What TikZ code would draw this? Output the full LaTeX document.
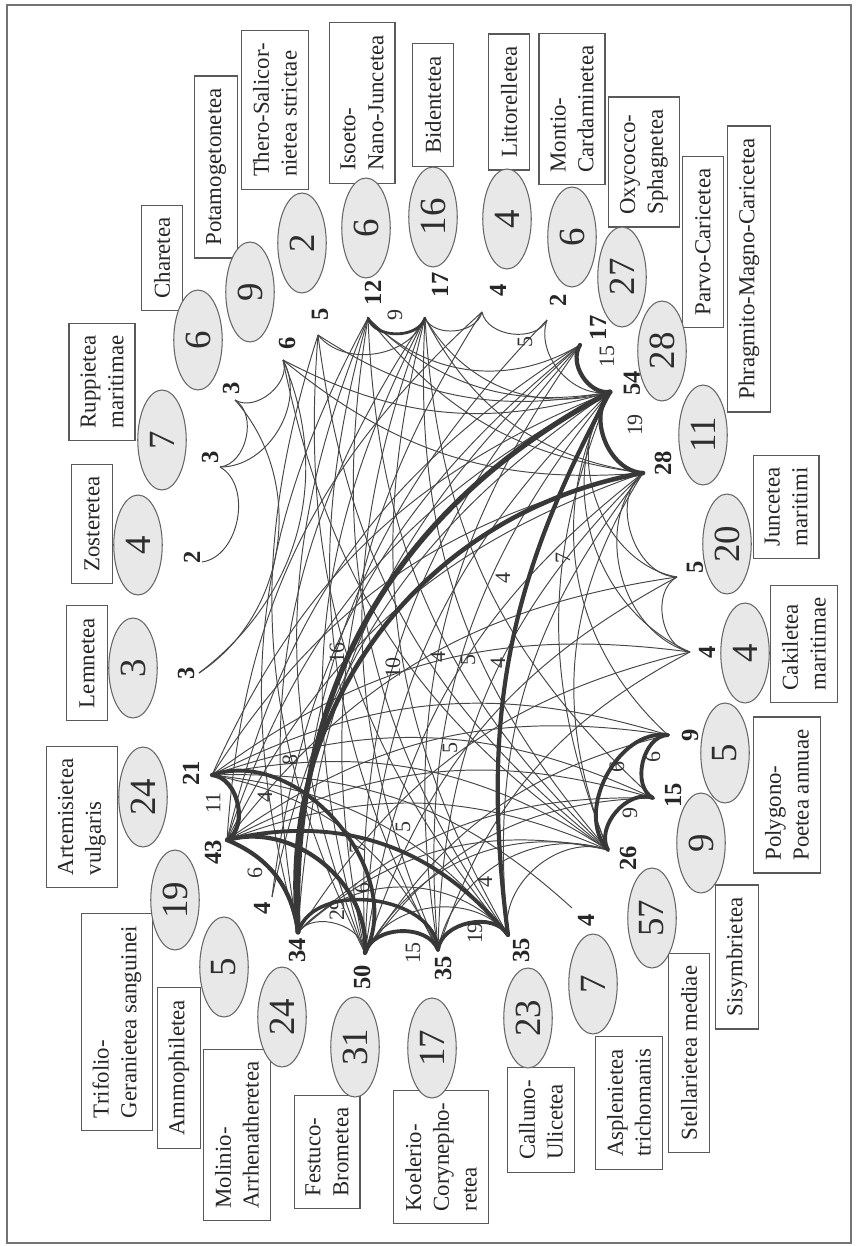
\documentclass[tikz,border=0pt]{standalone}
\usepackage{fontspec}
\setmainfont{Liberation Serif}
\usetikzlibrary{shapes.geometric,calc}

\tikzset{
  klasse/.style={ellipse,draw=black!60,fill=black!9,line width=0.6pt,rotate=90,
    minimum width=2cm,minimum height=0.97cm,inner sep=0pt,
    font=\fontsize{21}{21}\selectfont,text=black!82},
  namebox/.style={draw=black!65,fill=white,line width=0.7pt,rotate=90,align=left,
    inner xsep=7pt,inner ysep=6.5pt,minimum height=0.82cm,
    font=\fontsize{13}{15.8}\selectfont,text=black!85},
  hubnum/.style={rotate=90,inner sep=0pt,font=\fontsize{14}{14}\selectfont\bfseries,text=black!85},
  wnum/.style={rotate=90,inner sep=0pt,font=\fontsize{12.5}{12.5}\selectfont,text=black!80},
  link/.style={black!72,line width=0.55pt},
  heavy/.style={black!78,line join=round,line cap=round},
}

\begin{document}
\begin{tikzpicture}[x=0.02cm,y=-0.02cm]
\useasboundingbox (0,0) rectangle (855,1246);
\draw[black!55,line width=0.8pt] (7,5) rectangle (851,1243);

% hubs, in ring order
\foreach \hx/\hy/\lx/\ly/\v [count=\i] in {
  199/673/186/673/3, 202/562/192/557/2, 220/467/210/457/3, 235/400/231/388/3,
  283/360/287/343/6, 318/335/320/314/5, 368/318/373/293/12, 425/318/440/285/17,
  482/312/498/290/4, 547/320/558/300/2, 580/345/598/328/17, 610/392/632/383/54,
  643/473/663/463/28, 677/577/695/567/5, 690/652/707/652/4, 668/735/690/735/9,
  653/798/673/795/15, 608/850/628/858/26, 572/908/586/920/4, 508/935/521/950/35,
  438/950/443/968/35, 365/953/362/977/50, 298/932/297/950/34, 272/897/262/908/4,
  227/840/213/852/43, 212/775/191/773/21}{
  \coordinate (h\i) at (\hx,\hy);
  \node[hubnum] (hl\i) at (\lx,\ly) {\v};
}

% thin links
\foreach \a/\b in {1/4,1/5,2/3,3/4,3/5,4/5,5/12,5/13,5/18,6/8,6/12,6/18,6/20,6/22,
  7/11,7/12,7/13,7/18,7/20,7/21,7/22,7/23,8/9,8/12,8/13,8/17,8/18,8/20,8/21,8/22,
  8/23,9/10,9/22,9/25,10/12,10/23,11/21,11/22,11/23,11/24,11/25,
  12/14,12/15,12/16,12/18,12/21,12/22,12/24,12/25,12/26,13/14,13/15,13/18,13/20,
  13/21,13/22,13/25,13/26,14/15,14/22,14/25,15/21,15/23,15/26,16/22,16/25,16/26,
  17/22,17/23,17/25,17/26,18/20,18/21,18/22,18/23,18/25,18/26,19/26,20/22,20/23,
  20/26,21/26,22/23}{
  \pgfmathsetmacro\bnd{max(22,82-11*(\b-\a))}
  \draw[link] (h\a) to[bend right=\bnd] (h\b);
}

% heavy links
\foreach \a/\b/\bnd/\w in {7/8/72/1.6,11/12/65/2.4,12/13/65/2.4,12/23/32/3,13/23/43/2.6,
  12/20/18/2.4,16/17/75/2.2,16/18/70/2.2,17/18/70/2.2,20/21/72/2.2,21/22/72/2.2,
  21/23/80/2,20/25/32/2.2,22/25/55/2.4,23/25/30/2.4,25/26/72/2.4,22/26/68/2.2}{
  \draw[heavy,line width=\w pt] (h\a) to[bend right=\bnd] (h\b);
}

% link weights
\foreach \x/\y/\w [count=\i] in {395/315/9,525/342/5,607/357/15,635/425/19,337/653/16,
  393/668/10,438/657/4,468/660/5,498/663/4,503/578/4,563/558/7,450/748/5,290/760/8,
  265/797/4,213/803/11,255/873/6,357/848/7,403/827/5,337/910/29,362/888/6,413/953/15,
  475/933/19,485/882/4,617/767/6,653/757/6,630/813/9}{
  \node[wnum] (w\i) at (\x,\y) {\w};
}

% name boxes
\node[namebox] (lemT) at (87,663) {Lemnetea};
\node[namebox] (zosT) at (92,524) {Zosteretea};
\node[namebox] (rupT) at (102,382) {Ruppietea\\maritimae};
\node[namebox] (chaT) at (162,258) {Charetea};
\node[namebox] (potT) at (216,167) {Potamogetonetea};
\node[namebox] (theT) at (275,110) {Thero-Salicor-\\nietea strictae};
\node[namebox] (isoT) at (362,103) {Isoeto-\\Nano-Juncetea};
\node[namebox] (bidT) at (433,105) {Bidentetea};
\node[namebox] (litT) at (509,102) {Littorelletea};
\node[namebox] (monT) at (572,109) {Montio-\\Cardaminetea};
\node[namebox] (oxyT) at (644,162) {Oxycocco-\\Sphagnetea};
\node[namebox] (parT) at (703,242) {Parvo-Caricetea};
\node[namebox] (phrT) at (749,269) {Phragmito-Magno-Caricetea};
\node[namebox] (junT) at (786,507) {Juncetea\\maritimi};
\node[namebox] (cakT) at (804,644) {Cakiletea\\maritimae};
\node[namebox] (polT) at (787,795) {Polygono-\\Poetea annuae};
\node[namebox] (sisT) at (737,957) {Sisymbrietea};
\node[namebox] (steT) at (689,1053) {Stellarietea mediae};
\node[namebox] (aspT) at (629,1103) {Asplenietea\\trichomanis};
\node[namebox] (calT) at (541,1120) {Calluno-\\Ulicetea};
\node[namebox] (koeT) at (441,1157) {Koelerio-\\Corynepho-\\retea};
\node[namebox] (fesT) at (327,1152) {Festuco-\\Brometea};
\node[namebox] (molT) at (237,1135) {Molinio-\\Arrhenatheretea};
\node[namebox] (ammT) at (179,1068) {Ammophiletea};
\node[namebox] (triT) at (117,1022) {Trifolio-\\Geranietea sanguinei};
\node[namebox] (artT) at (82,817) {Artemisietea\\vulgaris};

% class sizes
\node[klasse] (lem) at (133,668) {3};
\node[klasse] (zos) at (138,545) {4};
\node[klasse] (rup) at (162,440) {7};
\node[klasse] (cha) at (198,340) {6};
\node[klasse] (pot) at (250,292) {9};
\node[klasse] (the) at (302,243) {2};
\node[klasse] (iso) at (366,228) {6};
\node[klasse] (bid) at (433,217) {16};
\node[klasse] (lit) at (507,219) {4};
\node[klasse] (mon) at (572,237) {6};
\node[klasse] (oxy) at (622,277) {27};
\node[klasse] (par) at (662,351) {28};
\node[klasse] (phr) at (703,435) {11};
\node[klasse] (jun) at (727,544) {20};
\node[klasse] (cak) at (745,653) {4};
\node[klasse] (pol) at (725,753) {5};
\node[klasse] (sis) at (701,843) {9};
\node[klasse] (ste) at (652,918) {57};
\node[klasse] (asp) at (593,984) {7};
\node[klasse] (cal) at (528,1018) {23};
\node[klasse] (koe) at (432,1048) {17};
\node[klasse] (fes) at (355,1047) {31};
\node[klasse] (mol) at (282,1017) {24};
\node[klasse] (amm) at (224,967) {5};
\node[klasse] (tri) at (175,900) {19};
\node[klasse] (art) at (143,797) {24};
\end{tikzpicture}
\end{document}
